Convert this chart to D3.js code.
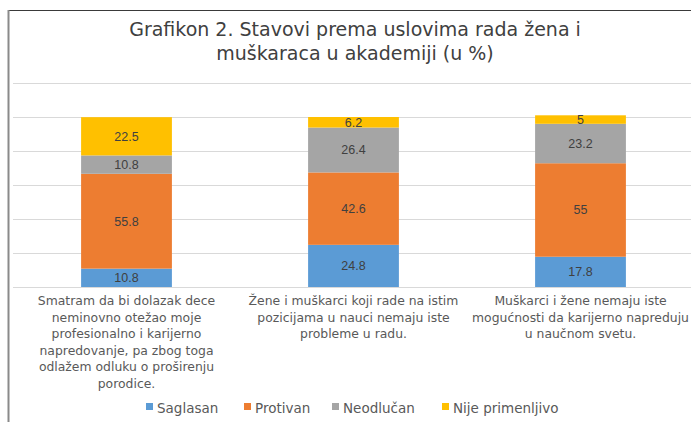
<!DOCTYPE html>
<html>
<head>
<meta charset="utf-8">
<script src="https://cdn.jsdelivr.net/npm/d3@7"></script>
<style>
  body { margin: 0; background: #fff; }
  svg { display: block; }
</style>
</head>
<body>
<svg id="chart" width="691" height="422"></svg>
<script>
// data
var categories = ["c1", "c2", "c3"];
var categoryLines = [
    ["Smatram da bi dolazak dece", "neminovno otežao moje", "profesionalno i karijerno",
     "napredovanje, pa zbog toga", "odlažem odluku o proširenju", "porodice."],
    ["Žene i muškarci koji rade na istim", "pozicijama u nauci nemaju iste", "probleme u radu."],
    ["Muškarci i žene nemaju iste", "mogućnosti da karijerno napreduju", "u naučnom svetu."]
];
var seriesNames = ["Saglasan", "Protivan", "Neodlučan", "Nije primenljivo"];
var saglasan = [10.8, 24.8, 17.8];
var protivan = [55.8, 42.6, 55];
var neodlucan = [10.8, 26.4, 23.2];
var nijePrimenljivo = [22.5, 6.2, 5];
var yTicks = [0, 20, 40, 60, 80, 100, 120];
var titleLines = ["Grafikon 2. Stavovi prema uslovima rada žena i", "muškaraca u akademiji (u %)"];

var colors = ["#5B9BD5", "#ED7D31", "#A5A5A5", "#FFC000"];
var gothic = "'DejaVu Sans', sans-serif";
var calibri = "'Liberation Sans', sans-serif";

var svg = d3.select("#chart");

// frame (chart area border, cut off at right/bottom)
svg.append("line").attr("x1", 8).attr("x2", 691).attr("y1", 10.5).attr("y2", 10.5)
    .attr("stroke", "#3a3a3a").attr("stroke-width", 1);
svg.append("line").attr("x1", 8.5).attr("x2", 8.5).attr("y1", 10).attr("y2", 422)
    .attr("stroke", "#8a8a8a").attr("stroke-width", 2);

// title
svg.append("g").selectAll("text").data(titleLines).enter().append("text")
    .attr("x", 355).attr("y", function(d, i) { return 36 + i * 24; })
    .attr("text-anchor", "middle")
    .attr("font-family", gothic).attr("font-size", 19)
    .attr("fill", "#404040")
    .text(function(d) { return d; });

var x = d3.scaleBand().domain(categories).range([13, 694])
    .paddingInner(0.6).paddingOuter(0.3);
var y = d3.scaleLinear().domain([0, 120]).range([287, 83]);

// gridlines
var grid = svg.append("g").attr("transform", "translate(13,0)")
    .call(d3.axisLeft(y).tickValues(yTicks).tickSize(-(691 - 13)).tickFormat(""));
grid.select(".domain").remove();
grid.selectAll(".tick line").attr("stroke", "#D9D9D9").attr("stroke-width", 1);

// stacked bars
var rows = categories.map(function(c, i) {
    return { cat: c, s0: saglasan[i], s1: protivan[i], s2: neodlucan[i], s3: nijePrimenljivo[i] };
});
var stack = d3.stack().keys(["s0", "s1", "s2", "s3"]);
var layers = stack(rows);

var layer = svg.selectAll(".layer").data(layers).enter().append("g")
    .attr("class", "layer")
    .attr("fill", function(d, i) { return colors[i]; });

layer.selectAll("rect").data(function(d) { return d; }).enter().append("rect")
    .attr("x", function(d) { return x(d.data.cat); })
    .attr("width", x.bandwidth())
    .attr("y", function(d) { return y(d[1]); })
    .attr("height", function(d) { return y(d[0]) - y(d[1]); });

layer.selectAll("text").data(function(d) { return d; }).enter().append("text")
    .attr("x", function(d) { return x(d.data.cat) + x.bandwidth() / 2; })
    .attr("y", function(d) { return (y(d[0]) + y(d[1])) / 2; })
    .attr("dy", "0.36em")
    .attr("text-anchor", "middle")
    .attr("font-family", calibri).attr("font-size", 12.5)
    .attr("fill", "#404040")
    .text(function(d) { return d3.format("")(+(d[1] - d[0]).toFixed(1)); });

// category labels
var catG = svg.selectAll(".cat").data(categories).enter().append("text")
    .attr("class", "cat")
    .attr("text-anchor", "middle")
    .attr("font-family", gothic).attr("font-size", 12.4)
    .attr("fill", "#595959");
catG.selectAll("tspan").data(function(d, i) { return categoryLines[i]; }).enter().append("tspan")
    .attr("x", function() { var c = d3.select(this.parentNode).datum(); return x(c) + x.bandwidth() / 2; })
    .attr("y", function(d, i) { return 305 + i * 16.5; })
    .text(function(d) { return d; });

// legend
var legendX = [146, 244, 332, 442];
var leg = svg.selectAll(".leg").data(seriesNames).enter().append("g")
    .attr("class", "leg")
    .attr("transform", function(d, i) { return "translate(" + legendX[i] + ",0)"; });
leg.append("rect").attr("x", 0).attr("y", 403).attr("width", 7).attr("height", 7)
    .attr("fill", function(d, i) { return colors[i]; });
leg.append("text").attr("x", 11).attr("y", 413)
    .attr("font-family", gothic).attr("font-size", 13.5)
    .attr("fill", "#595959")
    .text(function(d) { return d; });
</script>
</body>
</html>
